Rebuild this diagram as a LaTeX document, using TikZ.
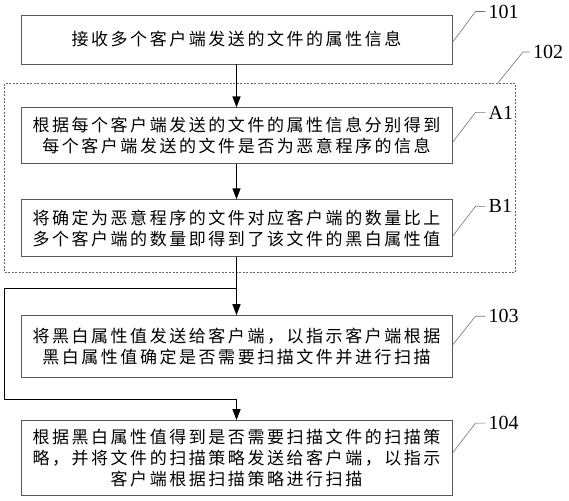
\documentclass[tikz,border=0pt]{standalone}
\usepackage{fontspec}
\setmainfont{Liberation Serif}
\newfontfamily\cjk{Noto Sans CJK SC}[LetterSpace=15]
\usetikzlibrary{positioning, calc, fit, arrows.meta}

\begin{document}
\begin{tikzpicture}[
    x=1pt, y=1pt,
    stepbox/.style={rectangle, draw=black!65, line width=0.9pt, minimum width=431pt, inner sep=0pt, align=center, font=\cjk\fontsize{17}{21}\selectfont},
    groupbox/.style={rectangle, draw=black!60, line width=0.8pt, dash pattern=on 2pt off 1.5pt, inner sep=0pt},
    flow/.style={line width=1.2pt, -{Triangle[length=11pt,width=8pt]}},
    tagline/.style={draw=black!55, line width=0.6pt},
    tagtext/.style={anchor=west, inner sep=0pt, font=\fontsize{20}{20}\selectfont}
]
\useasboundingbox (0,0) rectangle (569,500);

% steps
\node[stepbox, minimum height=49pt] (s101) at (236.5,460.5) {接收多个客户端发送的文件的属性信息};
\node[stepbox, minimum height=56pt, below=43pt of s101] (sA1) {根据每个客户端发送的文件的属性信息分别得到\\每个客户端发送的文件是否为恶意程序的信息};
\node[stepbox, minimum height=57pt, below=35pt of sA1] (sB1) {将确定为恶意程序的文件对应客户端的数量比上\\多个客户端的数量即得到了该文件的黑白属性值};
\node[stepbox, minimum height=62pt, below=58pt of sB1] (s103) {将黑白属性值发送给客户端，以指示客户端根据\\黑白属性值确定是否需要扫描文件并进行扫描};
\node[stepbox, minimum height=75pt, below=42pt of s103] (s104) {根据黑白属性值得到是否需要扫描文件的扫描策\\略，并将文件的扫描策略发送给客户端，以指示\\客户端根据扫描策略进行扫描};

% dashed group round A1 and B1
\coordinate (gNW) at ($(sA1.north west)+(-16,24)$);
\coordinate (gSE) at ($(sB1.south east)+(63,-15)$);
\node[groupbox, fit=(gNW)(gSE)] (g102) {};

% arrows
\draw[flow] (s101) -- (sA1);
\draw[flow] (sA1) -- (sB1);
\draw[flow] (sB1) -- (s103);
\coordinate (split) at ($(sB1.south)+(0,-31)$);
\coordinate (loop) at ($(s104.north)+(0,21)$);
\draw[flow] (split) -- (split -| g102.west) -- (loop -| g102.west) -- (loop) -- (s104);

% reference numbers
\node[tagtext] (t101) at ($(s101.north east)+(36,3)$) {101};
\draw[tagline] ($(s101.north east)+(0,-28)$) -- ++(23,31) -- ($(t101.west)+(-3,0)$);
\node[tagtext] (t102) at ($(g102.north east)+(17,31)$) {102};
\draw[tagline] ($(g102.north east)+(-18,0)$) -- ++(25,31) -- ($(t102.west)+(-3,0)$);
\node[tagtext] (tA1) at ($(sA1.north east)+(36,-5)$) {A1};
\draw[tagline] ($(sA1.north east)+(0,-35)$) -- ++(23,30) -- ($(tA1.west)+(-3,0)$);
\node[tagtext] (tB1) at ($(sB1.north east)+(36,-7)$) {B1};
\draw[tagline] ($(sB1.north east)+(0,-37)$) -- ++(23,30) -- ($(tB1.west)+(-3,0)$);
\node[tagtext] (t103) at ($(s103.north east)+(36,-1)$) {103};
\draw[tagline] ($(s103.north east)+(0,-30)$) -- ++(23,29) -- ($(t103.west)+(-3,0)$);
\node[tagtext] (t104) at ($(s104.north east)+(36,-3)$) {104};
\draw[tagline] ($(s104.north east)+(0,-33)$) -- ++(23,30) -- ($(t104.west)+(-3,0)$);

\end{tikzpicture}
\end{document}
